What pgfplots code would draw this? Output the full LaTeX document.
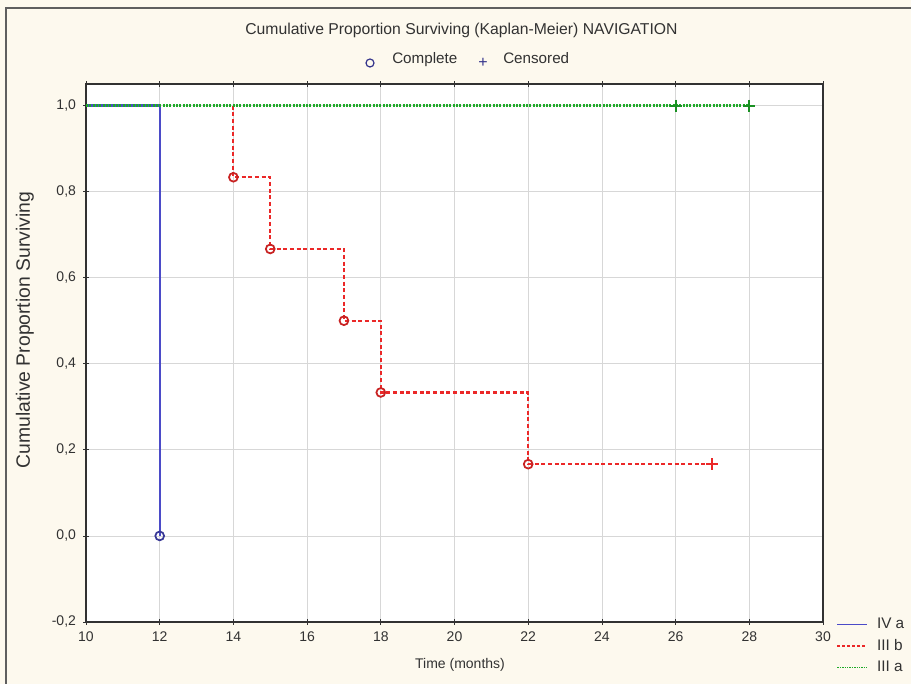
\documentclass[border=0pt]{standalone}
\usepackage{fontspec}
\setmainfont{Liberation Sans}
\usepackage{pgfplots}
\pgfplotsset{compat=1.18}
\usetikzlibrary{calc,backgrounds}
\definecolor{cream}{RGB}{253,249,238}
\definecolor{framec}{RGB}{95,95,95}
\definecolor{ink}{RGB}{50,50,50}
\definecolor{kmblue}{RGB}{75,75,200}
\definecolor{kmred}{RGB}{235,40,40}
\definecolor{kmgreen}{RGB}{30,170,40}
\definecolor{gridc}{RGB}{215,215,215}
\begin{document}
\begin{tikzpicture}
\begin{axis}[
  scale only axis,
  width=552.75pt, height=403.5pt,
  xmin=10, xmax=30, ymin=-0.2, ymax=1.05,
  xtick={10,12,...,30},
  ytick={-0.2,0,0.2,0.4,0.6,0.8,1.0},
  xtick pos=both, ytick pos=left,
  tick align=center, major tick length=4pt,
  tick style={color=ink, line width=0.6pt},
  axis line style={color=ink, line width=0.8pt},
  grid=major, grid style={color=gridc, line width=0.6pt},
  axis background/.style={fill=white},
  ticklabel style={color=ink, font=\fontsize{10.5}{12}\selectfont},
  /pgf/number format/assume math mode=true,
  yticklabel style={/pgf/number format/.cd, use comma, fixed, fixed zerofill, precision=1},
  xticklabel style={/pgf/number format/.cd, fixed, precision=0},
  xticklabel shift=2pt, yticklabel shift=2pt,
  legend style={at={(axis description cs:1,0)}, anchor=north west,
    draw=none, fill=none, xshift=7pt, yshift=7pt,
    font=\fontsize{11.5}{13}\selectfont, text=ink,
    row sep=2.5pt, legend cell align=left,
    nodes={inner xsep=7pt}},
  legend image code/.code={\draw[#1] (0pt,0pt) -- (22pt,0pt);},
  clip=false,
]
  \addlegendimage{kmblue, solid, line width=1.3pt}
  \addlegendentry{IV a}
  \addlegendimage{kmred, dash pattern=on 2.2pt off 1.5pt, line width=1.3pt}
  \addlegendentry{III b}
  \addlegendimage{kmgreen, dash pattern=on 1pt off 0.8pt, line width=1.3pt}
  \addlegendentry{III a}

  % IV a
  \addplot[kmblue, line width=1.6pt, forget plot] coordinates {
    (10,1) (12,1) (12,0)
  };
  \addplot[only marks, mark=o, mark size=3.3pt, color=kmblue!75!black, line width=1.3pt, forget plot] coordinates {
    (12,0)
  };
  % III b
  \addplot[kmred, dash pattern=on 3pt off 2pt, line width=1.6pt, const plot, forget plot] coordinates {
    (14,1) (14,0.8333) (15,0.6667) (17,0.5) (18,0.3333) (22,0.1667) (27,0.1667)
  };
  \addplot[only marks, mark=o, mark size=3.3pt, color=kmred!85!black, line width=1.3pt, forget plot] coordinates {
    (14,0.8333) (15,0.6667) (17,0.5) (18,0.3333) (22,0.1667)
  };
  \addplot[only marks, mark=+, mark size=4.5pt, color=kmred, line width=1.5pt, forget plot] coordinates {
    (27,0.1667)
  };
  % III a
  \addplot[kmgreen, dash pattern=on 1.5pt off 1pt, line width=1.6pt, forget plot] coordinates {
    (10,1) (28,1)
  };
  \addplot[only marks, mark=+, mark size=4.5pt, color=kmgreen!85!black, line width=1.5pt, forget plot] coordinates {
    (26,1) (28,1)
  };

  \coordinate (SW) at (rel axis cs:0,0);
  \coordinate (NE) at (rel axis cs:1,1);
\end{axis}
\begin{scope}[on background layer]
  \fill[cream] ($(SW)+(-70pt,-50pt)$) rectangle ($(NE)+(70pt,66pt)$);
  \draw[framec, line width=1.6pt] ($(SW)+(-60pt,-50pt)$) |- ($(NE)+(70pt,57pt)$);
\end{scope}
\node[text=ink, font=\fontsize{11.8}{14}\selectfont] at ($(SW|-NE)+(281.6pt,40.5pt)$)
  {Cumulative Proportion Surviving (Kaplan-Meier) NAVIGATION};
\draw[kmblue!70!black, line width=0.9pt] ($(SW|-NE)+(213pt,15.75pt)$) circle (3pt);
\node[text=ink, anchor=base west, inner sep=0pt, font=\fontsize{11.4}{13}\selectfont] at ($(SW|-NE)+(229.5pt,15.5pt)$) {Complete};
\node[text=kmblue!70!black, inner sep=0pt, font=\fontsize{12}{13}\selectfont] at ($(SW|-NE)+(297.75pt,16pt)$) {+};
\node[text=ink, anchor=base west, inner sep=0pt, font=\fontsize{11.4}{13}\selectfont] at ($(SW|-NE)+(312.75pt,15.5pt)$) {Censored};
\node[text=ink, font=\fontsize{10.5}{12}\selectfont] at ($(SW)+(280.5pt,-32pt)$) {Time (months)};
\node[text=ink, font=\fontsize{14.5}{17}\selectfont, rotate=90] at ($(SW)+(-45.75pt,219pt)$)
  {Cumulative Proportion Surviving};
\pgfresetboundingbox
\useasboundingbox ($(SW)+(-64.5pt,-46.5pt)$) rectangle ($(NE)+(66pt,63pt)$);
\end{tikzpicture}
\end{document}
